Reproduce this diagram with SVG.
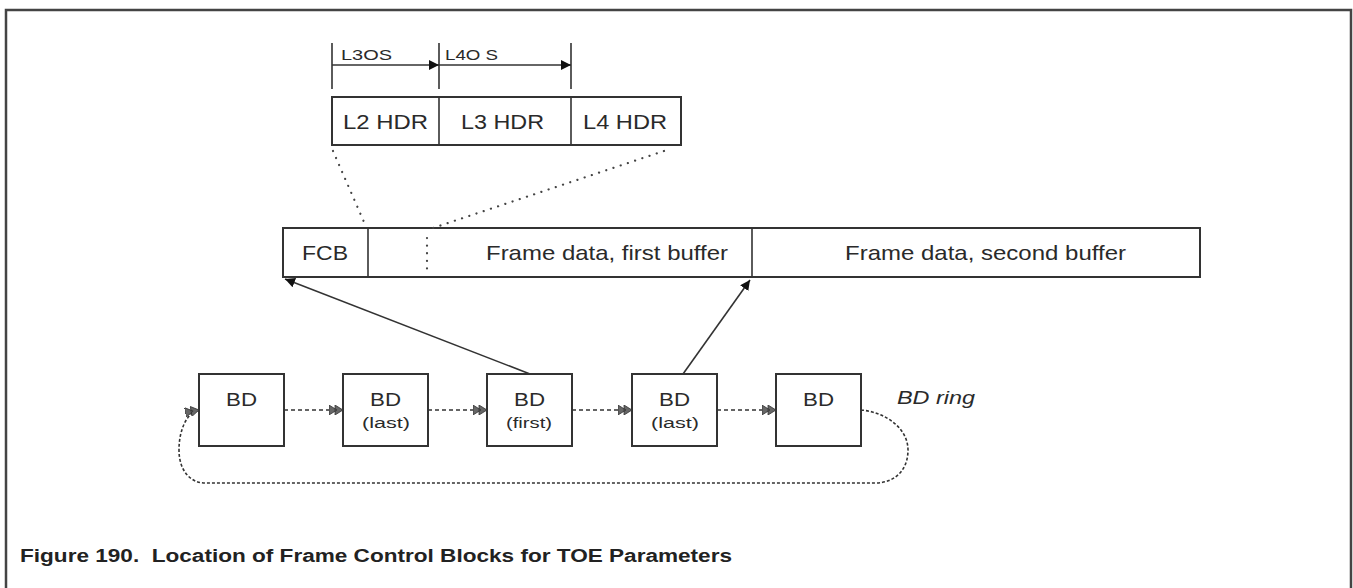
<svg xmlns="http://www.w3.org/2000/svg" width="1353" height="588" viewBox="0 0 1353 588">
<style>
.box{fill:#fff;stroke:#333;stroke-width:2}
.ln{fill:none;stroke:#333;stroke-width:1.6}
.dash{fill:none;stroke:#333;stroke-width:1.6;stroke-dasharray:4 3}
.dot{fill:none;stroke:#444;stroke-width:2.2;stroke-dasharray:0.1 7.5;stroke-linecap:round}
.t{font-family:"Liberation Sans",Arial,sans-serif;fill:#2a2a2a}
.big{font-size:21px}
.bd{font-size:19px}
.sm{font-size:14px}
.off{font-size:15px}
.cap{font-family:"Liberation Sans",Arial,sans-serif;font-weight:bold;font-size:18px;fill:#222}
</style>
<defs>
<marker id="tri" viewBox="0 0 10 10" refX="10" refY="5" markerWidth="10" markerHeight="10" markerUnits="userSpaceOnUse" orient="auto">
<path d="M0,0 L10,5 L0,10 z" fill="#111"/>
</marker>
<marker id="dbl" viewBox="0 0 14 10" refX="14" refY="5" markerWidth="14" markerHeight="10" markerUnits="userSpaceOnUse" orient="auto">
<path d="M0,0 L8,5 L0,10 z M6,0 L14,5 L6,10 z" fill="#666" stroke="#333" stroke-width="0.8"/>
</marker>
</defs>
<rect width="1353" height="588" fill="#fff"/>
<path d="M6,588 V10 H1351 V588" fill="none" stroke="#444" stroke-width="2.5"/>

<g id="offsets">
<line class="ln" x1="332" y1="43" x2="332" y2="89"/>
<line class="ln" x1="439" y1="43" x2="439" y2="89"/>
<line class="ln" x1="571" y1="43" x2="571" y2="89"/>
<text class="t off" x="341" y="60" textLength="51" lengthAdjust="spacingAndGlyphs">L3OS</text>
<text class="t off" x="445" y="60" textLength="53" lengthAdjust="spacingAndGlyphs">L4O S</text>
</g>

<g id="headers">
<rect class="box" x="332" y="97" width="349" height="48"/>
<line class="ln" x1="439" y1="97" x2="439" y2="145" stroke-width="2"/>
<line class="ln" x1="571" y1="97" x2="571" y2="145" stroke-width="2"/>
<text class="t big" x="343" y="129" textLength="85" lengthAdjust="spacingAndGlyphs">L2 HDR</text>
<text class="t big" x="461" y="129" textLength="83" lengthAdjust="spacingAndGlyphs">L3 HDR</text>
<text class="t big" x="583" y="129" textLength="84" lengthAdjust="spacingAndGlyphs">L4 HDR</text>
</g>

<g id="frame">
<rect class="box" x="283" y="228" width="917" height="49"/>
<line class="ln" x1="368" y1="228" x2="368" y2="277" stroke-width="2"/>
<line class="ln" x1="752" y1="228" x2="752" y2="277" stroke-width="2"/>
<text class="t big" x="302" y="260" textLength="46" lengthAdjust="spacingAndGlyphs">FCB</text>
<text class="t big" x="486" y="260" textLength="242" lengthAdjust="spacingAndGlyphs">Frame data, first buffer</text>
<text class="t big" x="845" y="260" textLength="281" lengthAdjust="spacingAndGlyphs">Frame data, second buffer</text>
</g>

<g id="bd1"><rect class="box" x="199" y="374" width="85" height="72"/><text class="t bd" x="226" y="406" textLength="31" lengthAdjust="spacingAndGlyphs">BD</text></g>
<g id="bd2"><rect class="box" x="343" y="374" width="85" height="72"/><text class="t bd" x="370" y="406" textLength="31" lengthAdjust="spacingAndGlyphs">BD</text><text class="t sm" x="362" y="428" textLength="48" lengthAdjust="spacingAndGlyphs">(last)</text></g>
<g id="bd3"><rect class="box" x="487" y="374" width="85" height="72"/><text class="t bd" x="514" y="406" textLength="31" lengthAdjust="spacingAndGlyphs">BD</text><text class="t sm" x="506" y="428" textLength="46" lengthAdjust="spacingAndGlyphs">(first)</text></g>
<g id="bd4"><rect class="box" x="632" y="374" width="85" height="72"/><text class="t bd" x="659" y="406" textLength="31" lengthAdjust="spacingAndGlyphs">BD</text><text class="t sm" x="651" y="428" textLength="48" lengthAdjust="spacingAndGlyphs">(last)</text></g>
<g id="bd5"><rect class="box" x="776" y="374" width="85" height="72"/><text class="t bd" x="803" y="406" textLength="31" lengthAdjust="spacingAndGlyphs">BD</text></g>
<text class="t" x="897" y="404" font-size="19" font-style="italic" textLength="78" lengthAdjust="spacingAndGlyphs">BD ring</text>

<g id="connectors">
<line class="ln" x1="332" y1="65" x2="439" y2="65" marker-end="url(#tri)"/>
<line class="ln" x1="439" y1="65" x2="571" y2="65" marker-end="url(#tri)"/>
<path class="dot" d="M333,151 L364,222"/>
<path class="dot" d="M664,151 L427,230"/>
<path class="dot" d="M427,238 L427,270"/>
<line class="ln" x1="530" y1="374" x2="285" y2="279" marker-end="url(#tri)"/>
<line class="ln" x1="683" y1="374" x2="750" y2="280" marker-end="url(#tri)"/>
<line class="dash" x1="284" y1="410" x2="343" y2="410" marker-end="url(#dbl)"/>
<line class="dash" x1="428" y1="410" x2="487" y2="410" marker-end="url(#dbl)"/>
<line class="dash" x1="572" y1="410" x2="632" y2="410" marker-end="url(#dbl)"/>
<line class="dash" x1="717" y1="410" x2="776" y2="410" marker-end="url(#dbl)"/>
<path class="dash" style="stroke-dasharray:3 2" d="M861,410 C885,412 908,428 908,450 C908,470 895,483 875,483 L205,483 C190,483 179,470 179,450 C179,428 188,412 199,410" marker-end="url(#dbl)"/>
</g>

<text class="cap" x="20" y="562" xml:space="preserve" textLength="712" lengthAdjust="spacingAndGlyphs">Figure 190.  Location of Frame Control Blocks for TOE Parameters</text>
</svg>
